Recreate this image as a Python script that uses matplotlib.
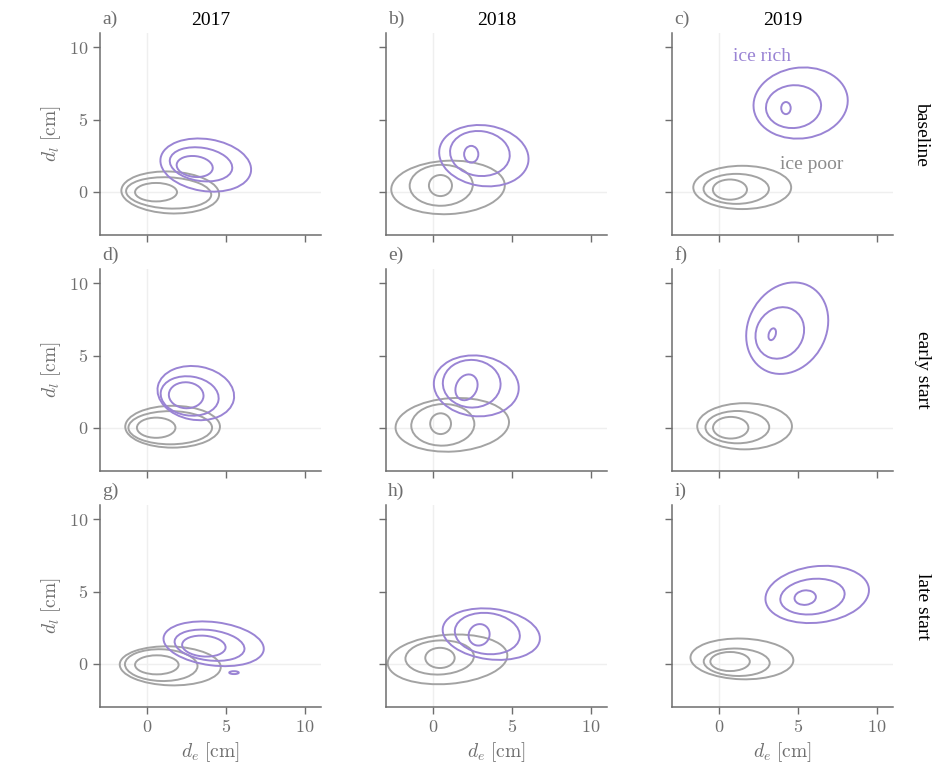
import matplotlib.pyplot as plt
from matplotlib.patches import Ellipse

plt.rcParams['font.family'] = 'Liberation Serif'
plt.rcParams['mathtext.fontset'] = 'cm'

years = ['2017', '2018', '2019']
scenarios = ['baseline', 'early start', 'late start']
letters = ['a)', 'b)', 'c)', 'd)', 'e)', 'f)', 'g)', 'h)', 'i)']

# density contours, one list per panel (row-major)
# each contour: (centre d_e, centre d_l, half-width, half-height, angle)
rich = [
    [(3.7, 1.85, 2.9, 1.8, -10), (3.4, 1.9, 2.0, 1.15, -10), (3.0, 1.75, 1.15, 0.72, -8)],
    [(3.2, 2.5, 2.85, 2.1, -10), (2.95, 2.65, 1.9, 1.55, -10), (2.4, 2.6, 0.45, 0.58, 0)],
    [(5.15, 6.15, 3.0, 2.45, 10), (4.7, 5.9, 1.75, 1.48, 8), (4.22, 5.8, 0.3, 0.42, 0)],
    [(3.07, 2.4, 2.45, 1.85, -12), (2.68, 2.2, 1.85, 1.35, -10), (2.46, 2.25, 1.1, 0.9, -5)],
    [(2.72, 2.9, 2.7, 2.1, -8), (2.43, 3.05, 1.83, 1.65, -5), (2.1, 2.8, 0.67, 0.92, -20)],
    [(4.3, 6.9, 3.25, 2.5, 70), (3.83, 6.57, 1.82, 1.5, 70), (3.35, 6.48, 0.42, 0.22, 75)],
    [(4.2, 1.38, 3.2, 1.5, -8), (3.94, 1.28, 2.23, 1.05, -8), (3.58, 1.22, 1.38, 0.72, -5),
     (5.49, -0.62, 0.3, 0.1, 0)],
    [(3.67, 2.05, 3.1, 1.75, -8), (3.42, 2.09, 2.07, 1.42, -8), (2.9, 2.0, 0.66, 0.75, -15)],
    [(6.2, 4.8, 3.3, 1.95, 8), (5.9, 4.65, 2.05, 1.22, 8), (5.44, 4.58, 0.68, 0.5, 8)],
]
poor = [
    [(1.45, -0.05, 3.1, 1.45, -3), (1.35, -0.08, 2.7, 1.08, -3), (0.55, -0.03, 1.33, 0.64, 0)],
    [(0.93, 0.3, 3.6, 1.85, 3), (0.5, 0.45, 2.0, 1.42, 2), (0.45, 0.43, 0.73, 0.73, 0)],
    [(1.45, 0.3, 3.1, 1.5, 0), (1.07, 0.2, 2.07, 1.04, 0), (0.67, 0.15, 1.08, 0.7, 0)],
    [(1.6, 0.07, 3.0, 1.45, 0), (1.45, 0.0, 2.65, 1.15, 0), (0.56, 0.0, 1.22, 0.7, 0)],
    [(1.2, 0.2, 3.6, 1.85, 4), (0.6, 0.2, 2.0, 1.44, 3), (0.46, 0.28, 0.66, 0.72, 0)],
    [(1.6, 0.1, 3.0, 1.6, 0), (1.14, 0.04, 2.02, 1.12, 0), (0.72, 0.0, 1.12, 0.75, 0)],
    [(1.45, -0.15, 3.2, 1.35, -2), (0.88, -0.1, 2.3, 1.1, -2), (0.6, -0.08, 1.38, 0.66, 0)],
    [(0.9, 0.3, 3.8, 1.7, 5), (0.4, 0.43, 2.17, 1.18, 3), (0.42, 0.4, 0.93, 0.7, 0)],
    [(1.43, 0.33, 3.26, 1.41, -2), (1.1, 0.1, 2.09, 0.95, -2), (0.68, 0.15, 1.25, 0.66, 0)],
]

ticks = [0, 5, 10]
tick_labels = ['$0$', '$5$', '$10$']

purple = '#9a84d4'
grey = '#a3a3a3'
axis_grey = '#6e6e6e'

fig = plt.figure(figsize=(9.38, 7.78), dpi=100)
lefts = [0.1066, 0.4115, 0.7164]
bottoms = [0.6979, 0.3946, 0.0913]
w, h = 0.2356, 0.2596

for i in range(3):
    for j in range(3):
        k = i * 3 + j
        ax = fig.add_axes([lefts[j], bottoms[i], w, h])
        ax.set_xlim(-3, 11)
        ax.set_ylim(-3, 11)
        ax.axhline(0, color='#efefef', lw=1, zorder=0)
        ax.axvline(0, color='#efefef', lw=1, zorder=0)

        for (x, y, a, b, ang) in poor[k]:
            ax.add_patch(Ellipse((x, y), 2 * a, 2 * b, angle=ang, fill=False,
                                 edgecolor=grey, lw=1.4))
        for (x, y, a, b, ang) in rich[k]:
            ax.add_patch(Ellipse((x, y), 2 * a, 2 * b, angle=ang, fill=False,
                                 edgecolor=purple, lw=1.4))

        for side in ['top', 'right']:
            ax.spines[side].set_visible(False)
        for side in ['left', 'bottom']:
            ax.spines[side].set_color(axis_grey)
            ax.spines[side].set_linewidth(1.1)
        ax.set_xticks(ticks)
        ax.set_yticks(ticks)
        ax.tick_params(colors=axis_grey, labelcolor=axis_grey, length=5,
                       width=1.0, labelsize=13)
        if j == 0:
            ax.set_yticklabels(tick_labels)
            ax.set_ylabel(r'$d_l\ \mathrm{[cm]}$', fontsize=14, color=axis_grey)
        else:
            ax.tick_params(labelleft=False)
        if i == 2:
            ax.set_xticklabels(tick_labels)
            ax.set_xlabel(r'$d_e\ \mathrm{[cm]}$', fontsize=14, color=axis_grey,
                          labelpad=3)
        else:
            ax.tick_params(labelbottom=False)

        ax.text(0.01, 1.025, letters[k], transform=ax.transAxes, ha='left',
                va='bottom', fontsize=14, color=axis_grey)
        if i == 0:
            ax.set_title(years[j], fontsize=14, pad=6)
        if k == 2:
            ax.text(2.71, 9.36, 'ice rich', color=purple, fontsize=14,
                    ha='center', va='center')
            ax.text(5.83, 1.9, 'ice poor', color='#8c8c8c', fontsize=14,
                    ha='center', va='center')

    fig.text(0.983, bottoms[i] + h / 2, scenarios[i], rotation=-90,
             ha='center', va='center', fontsize=14)

fig.savefig('out.png', dpi=100)
